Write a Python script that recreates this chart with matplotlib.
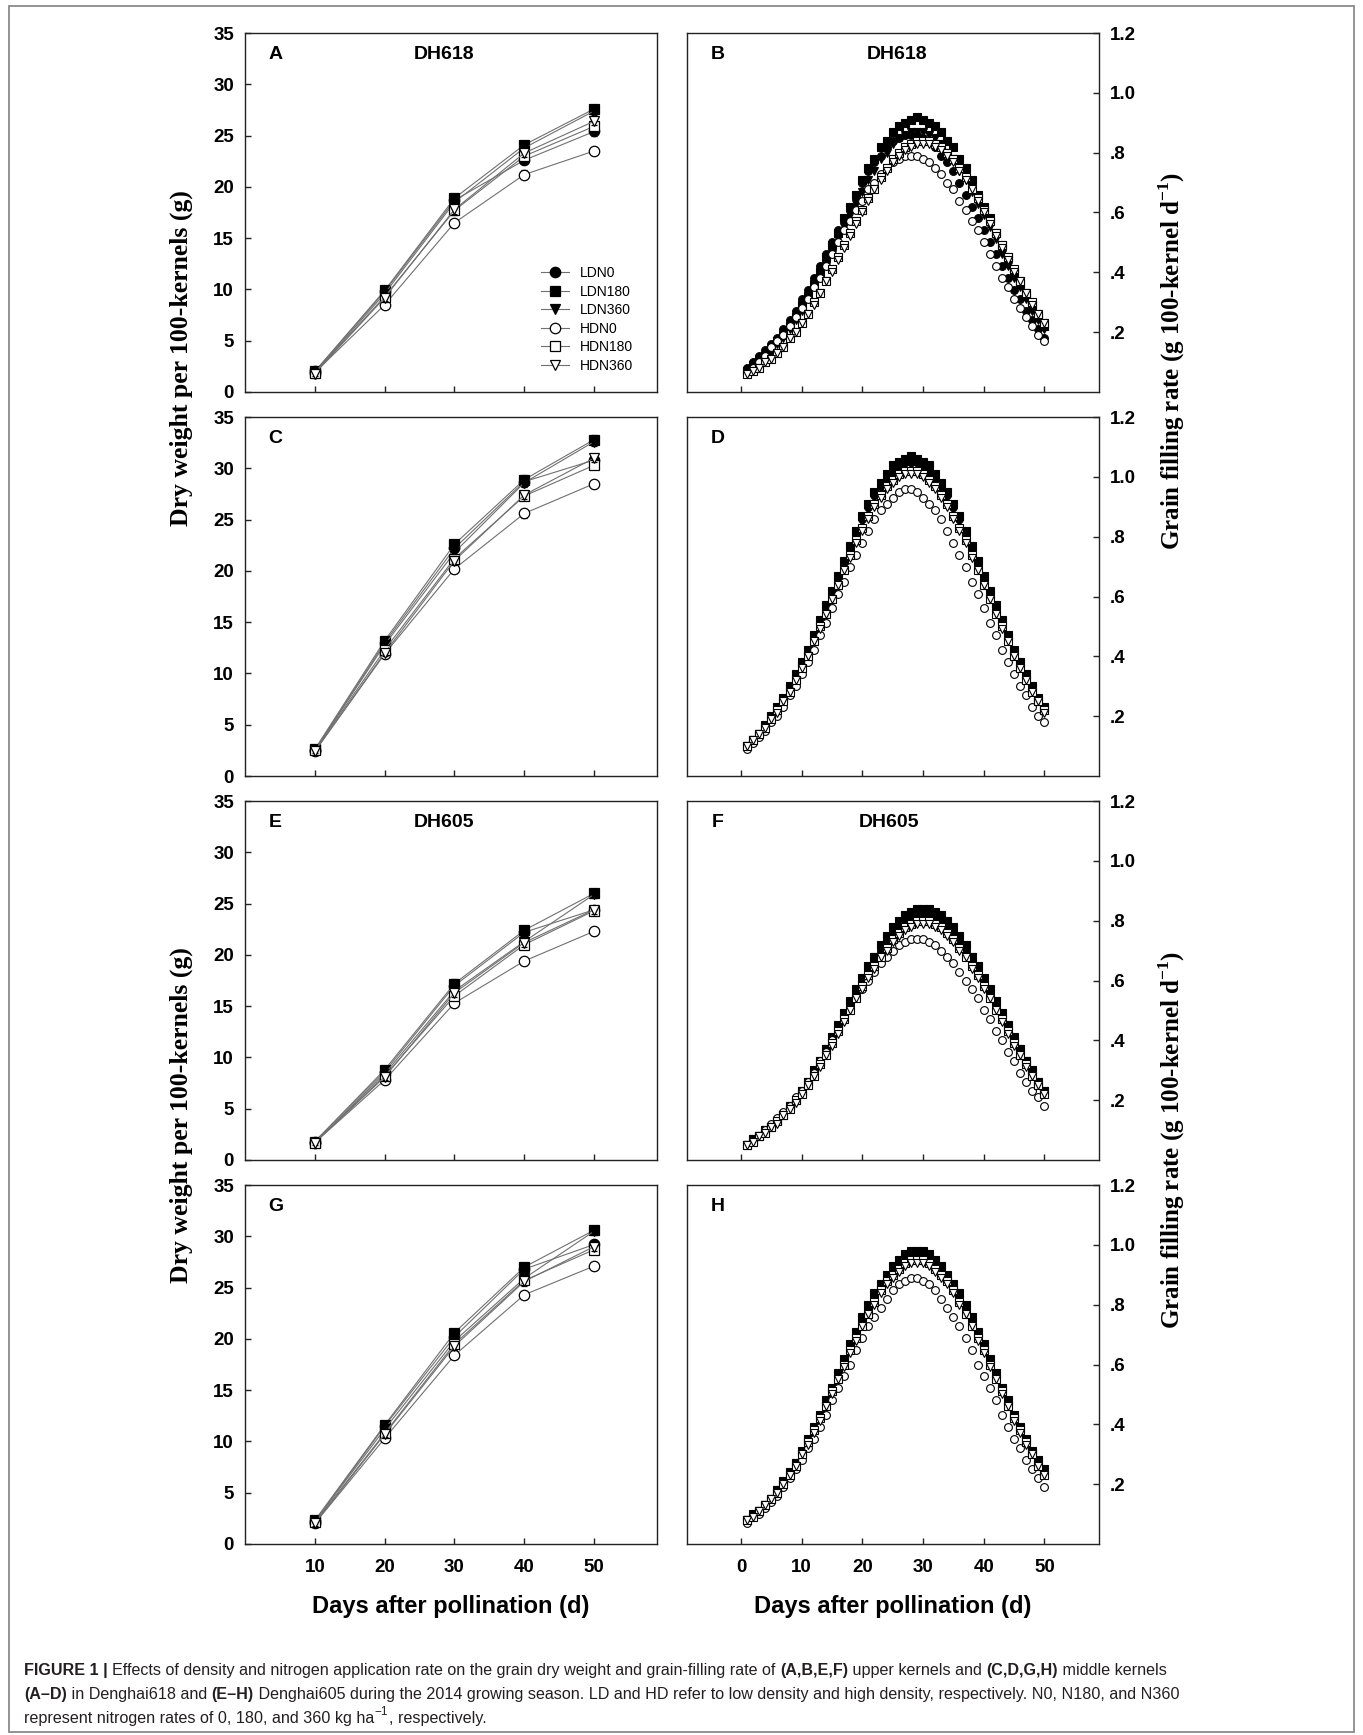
import numpy as np
import matplotlib
matplotlib.use('Agg')
import matplotlib.pyplot as plt
from matplotlib.lines import Line2D
from matplotlib.patches import Rectangle

plt.rcParams['font.family'] = ['Liberation Sans', 'DejaVu Sans']
plt.rcParams['font.weight'] = 'bold'
plt.rcParams['mathtext.fontset'] = 'custom'
plt.rcParams['mathtext.rm'] = 'Liberation Serif:bold'
plt.rcParams['mathtext.bf'] = 'Liberation Serif:bold'

treatments = ['LDN0', 'LDN180', 'LDN360', 'HDN0', 'HDN180', 'HDN360']
markers = ['o', 's', 'v', 'o', 's', 'v']
filled = [True, True, True, False, False, False]

# dry weight per 100 kernels (g), sampled every 10 days
sample_days = [10, 20, 30, 40, 50]
weight_err = [0.2, 0.3, 0.4, 0.4, 0.4]
weight_A = [[2.0, 9.8, 18.7, 22.6, 25.4],
            [2.0, 9.9, 18.9, 24.1, 27.6],
            [1.9, 9.6, 18.5, 23.8, 27.4],
            [1.9, 8.5, 16.5, 21.2, 23.5],
            [1.9, 9.3, 17.7, 23.0, 25.9],
            [1.8, 9.2, 17.8, 23.3, 26.4]]
weight_C = [[2.5, 13.0, 22.2, 28.7, 30.8],
            [2.6, 13.2, 22.6, 28.9, 32.8],
            [2.5, 12.8, 21.8, 28.6, 32.6],
            [2.4, 11.9, 20.2, 25.6, 28.5],
            [2.5, 12.3, 21.2, 27.3, 30.3],
            [2.4, 12.0, 21.0, 27.4, 31.0]]
weight_E = [[1.8, 8.6, 17.0, 22.2, 24.4],
            [1.8, 8.8, 17.2, 22.4, 26.0],
            [1.7, 8.4, 16.5, 21.3, 25.9],
            [1.7, 7.8, 15.3, 19.4, 22.3],
            [1.7, 8.2, 16.0, 21.0, 24.3],
            [1.7, 8.1, 16.3, 21.2, 24.4]]
weight_G = [[2.2, 11.5, 20.2, 26.8, 29.2],
            [2.3, 11.6, 20.6, 27.0, 30.6],
            [2.2, 11.2, 19.8, 25.9, 30.5],
            [2.0, 10.3, 18.4, 24.3, 27.1],
            [2.1, 10.8, 19.5, 25.7, 28.7],
            [2.0, 10.7, 19.3, 25.6, 29.0]]

# grain filling rate (g 100-kernel-1 d-1), days 1..50
rate_days = list(range(1, 51))
rate_B = [
    [.08, .10, .12, .14, .16, .18, .21, .24, .27, .31, .34, .38, .42, .46, .50, .54, .58, .62, .66, .70, .74, .77, .79, .82, .84,
     .85, .86, .86, .86, .85, .84, .82, .79, .77, .74, .70, .66, .62, .58, .54, .50, .46, .42, .38, .34, .31, .27, .24, .21, .18],
    [.07, .09, .11, .12, .14, .17, .19, .22, .25, .29, .32, .36, .40, .45, .49, .53, .58, .62, .66, .71, .75, .78, .82, .84, .87,
     .89, .90, .91, .92, .91, .90, .89, .87, .84, .82, .78, .75, .71, .66, .62, .58, .53, .49, .45, .40, .36, .32, .29, .25, .22],
    [.07, .08, .10, .12, .14, .16, .18, .21, .24, .27, .31, .35, .38, .42, .46, .51, .55, .59, .63, .67, .71, .74, .78, .80, .83,
     .85, .86, .87, .87, .87, .86, .85, .83, .80, .78, .74, .71, .67, .63, .59, .55, .51, .46, .42, .38, .35, .31, .27, .24, .21],
    [.06, .08, .10, .12, .15, .17, .19, .22, .25, .28, .31, .35, .38, .42, .46, .50, .54, .57, .61, .64, .68, .70, .73, .75, .77,
     .78, .79, .79, .79, .78, .77, .75, .73, .70, .68, .64, .61, .57, .54, .50, .46, .42, .38, .35, .31, .28, .25, .22, .19, .17],
    [.06, .07, .08, .10, .11, .13, .15, .18, .20, .23, .26, .30, .33, .37, .41, .45, .49, .53, .57, .61, .65, .68, .72, .75, .78,
     .80, .82, .83, .84, .84, .84, .83, .82, .80, .78, .75, .72, .68, .65, .61, .57, .53, .49, .45, .41, .37, .33, .30, .26, .23],
    [.06, .07, .08, .10, .11, .13, .15, .18, .20, .23, .26, .29, .33, .37, .40, .44, .48, .52, .56, .60, .64, .68, .71, .74, .77,
     .79, .81, .82, .83, .83, .83, .82, .81, .79, .77, .74, .71, .68, .64, .60, .56, .52, .48, .44, .40, .37, .33, .29, .26, .23]]
rate_D = [
    [.10, .12, .14, .17, .19, .22, .26, .29, .33, .37, .42, .46, .51, .56, .61, .66, .71, .76, .81, .86, .90, .94, .97, 1.00, 1.02,
     1.04, 1.05, 1.05, 1.05, 1.04, 1.02, 1.00, .97, .94, .90, .86, .81, .76, .71, .66, .61, .56, .51, .46, .42, .37, .33, .29, .26, .22],
    [.10, .12, .14, .17, .20, .23, .26, .30, .34, .38, .42, .47, .52, .57, .62, .67, .72, .77, .82, .87, .91, .95, .98, 1.01, 1.04,
     1.05, 1.06, 1.07, 1.06, 1.05, 1.04, 1.01, .98, .95, .91, .87, .82, .77, .72, .67, .62, .57, .52, .47, .42, .38, .34, .30, .26, .23],
    [.10, .12, .14, .16, .19, .22, .25, .29, .33, .37, .41, .46, .51, .56, .61, .66, .71, .76, .80, .85, .89, .93, .96, .99, 1.01,
     1.03, 1.04, 1.04, 1.04, 1.03, 1.01, .99, .96, .93, .89, .85, .80, .76, .71, .66, .61, .56, .51, .46, .41, .37, .33, .29, .25, .22],
    [.09, .11, .13, .15, .18, .20, .23, .27, .30, .34, .38, .42, .47, .51, .56, .61, .65, .70, .74, .78, .82, .86, .89, .91, .93,
     .95, .96, .96, .95, .93, .91, .89, .86, .82, .78, .74, .70, .65, .61, .56, .51, .47, .42, .38, .34, .30, .27, .23, .20, .18],
    [.10, .12, .14, .16, .19, .22, .25, .28, .32, .36, .40, .45, .50, .54, .59, .64, .69, .74, .79, .83, .87, .91, .94, .97, .99,
     1.01, 1.02, 1.02, 1.02, 1.01, .99, .97, .94, .91, .87, .83, .79, .74, .69, .64, .59, .54, .50, .45, .40, .36, .32, .28, .25, .22],
    [.10, .12, .14, .16, .19, .21, .25, .28, .32, .36, .40, .45, .49, .54, .59, .64, .69, .73, .78, .82, .86, .90, .93, .96, .98,
     1.00, 1.01, 1.01, 1.01, 1.00, .98, .96, .93, .90, .86, .82, .78, .73, .69, .64, .59, .54, .49, .45, .40, .36, .32, .28, .25, .21]]
rate_F = [
    [.05, .07, .08, .09, .11, .13, .15, .17, .20, .23, .26, .29, .33, .36, .40, .44, .48, .52, .56, .60, .63, .67, .70, .73, .76,
     .78, .80, .81, .82, .82, .82, .81, .80, .78, .76, .73, .70, .67, .63, .60, .56, .52, .48, .44, .40, .36, .33, .29, .26, .23],
    [.05, .07, .08, .10, .11, .13, .15, .18, .20, .23, .26, .30, .33, .37, .41, .45, .49, .53, .57, .61, .65, .68, .72, .75, .78,
     .80, .82, .83, .84, .84, .84, .83, .82, .80, .78, .75, .72, .68, .65, .61, .57, .53, .49, .45, .41, .37, .33, .30, .26, .23],
    [.05, .07, .08, .10, .11, .13, .15, .18, .20, .23, .26, .29, .33, .37, .40, .44, .48, .52, .56, .60, .64, .68, .71, .74, .77,
     .79, .81, .82, .83, .83, .83, .82, .81, .79, .77, .74, .71, .68, .64, .60, .56, .52, .48, .44, .40, .37, .33, .29, .26, .23],
    [.05, .06, .08, .10, .12, .14, .16, .18, .21, .23, .26, .29, .33, .36, .40, .43, .47, .50, .54, .57, .60, .63, .66, .68, .70,
     .72, .73, .74, .74, .74, .73, .72, .70, .68, .66, .63, .60, .57, .54, .50, .47, .43, .40, .36, .33, .29, .26, .23, .21, .18],
    [.05, .06, .08, .09, .11, .13, .15, .17, .20, .22, .25, .28, .32, .35, .39, .43, .47, .50, .54, .58, .62, .65, .68, .71, .74,
     .76, .78, .79, .80, .80, .80, .79, .78, .76, .74, .71, .68, .65, .62, .58, .54, .50, .47, .43, .39, .35, .32, .28, .25, .22],
    [.05, .06, .08, .09, .11, .12, .15, .17, .19, .22, .25, .28, .31, .35, .38, .42, .46, .50, .54, .57, .61, .64, .68, .70, .73,
     .75, .77, .78, .79, .79, .79, .78, .77, .75, .73, .70, .68, .64, .61, .57, .54, .50, .46, .42, .38, .35, .31, .28, .25, .22]]
rate_H = [
    [.08, .09, .11, .13, .15, .18, .21, .24, .27, .31, .34, .39, .43, .47, .52, .56, .61, .66, .70, .75, .79, .83, .86, .90, .92,
     .94, .96, .97, .97, .97, .96, .94, .92, .90, .86, .83, .79, .75, .70, .66, .61, .56, .52, .47, .43, .39, .34, .31, .27, .24],
    [.08, .10, .11, .13, .15, .18, .21, .24, .27, .31, .35, .39, .43, .48, .52, .57, .62, .67, .71, .76, .80, .84, .87, .90, .93,
     .95, .97, .98, .98, .98, .97, .95, .93, .90, .87, .84, .80, .76, .71, .67, .62, .57, .52, .48, .43, .39, .35, .31, .28, .25],
    [.08, .09, .11, .13, .15, .18, .20, .23, .27, .30, .34, .38, .42, .47, .51, .56, .61, .65, .70, .74, .78, .82, .86, .89, .91,
     .93, .95, .96, .96, .96, .95, .93, .91, .89, .86, .82, .78, .74, .70, .65, .61, .56, .51, .47, .42, .38, .34, .30, .27, .23],
    [.07, .09, .10, .12, .14, .16, .19, .22, .25, .28, .32, .35, .39, .43, .48, .52, .56, .60, .65, .69, .73, .76, .79, .82, .85,
     .87, .88, .89, .89, .88, .87, .85, .82, .79, .76, .73, .69, .65, .60, .56, .52, .48, .43, .39, .35, .32, .28, .25, .22, .19],
    [.08, .09, .11, .13, .15, .17, .20, .23, .26, .30, .34, .38, .42, .46, .51, .55, .60, .65, .69, .73, .77, .81, .85, .88, .90,
     .92, .94, .95, .95, .95, .94, .92, .90, .88, .85, .81, .77, .73, .69, .65, .60, .55, .51, .46, .42, .38, .34, .30, .26, .23],
    [.08, .09, .11, .13, .15, .17, .20, .23, .26, .30, .33, .37, .41, .46, .50, .55, .59, .64, .68, .73, .77, .80, .84, .87, .89,
     .91, .93, .94, .94, .94, .93, .91, .89, .87, .84, .80, .77, .73, .68, .64, .59, .55, .50, .46, .41, .37, .33, .30, .26, .23]]

left_letters = ['A', 'C', 'E', 'G']
right_letters = ['B', 'D', 'F', 'H']
left_titles = ['DH618', '', 'DH605', '']
right_titles = ['DH618', '', 'DH605', '']
weights = [weight_A, weight_C, weight_E, weight_G]
rates = [rate_B, rate_D, rate_F, rate_H]

W, H = 1363, 1735
fig = plt.figure(figsize=(W / 100, H / 100), dpi=100)

def style_axes(ax):
    for sp in ax.spines.values():
        sp.set_linewidth(1.0)
        sp.set_color('#222222')
    ax.tick_params(direction='in', length=4, width=1, labelsize=13.5, pad=8, color='#222222')
    ax.tick_params(axis='x', pad=11)

row_tops = [33, 417, 801, 1185]
ax_h = 359
for r in range(4):
    bottom = 1 - (row_tops[r] + ax_h) / H
    # dry weight panel
    ax = fig.add_axes([245 / W, bottom, 412 / W, ax_h / H])
    for i in range(6):
        ax.errorbar(sample_days, weights[r][i], yerr=weight_err, color='#707070', lw=0.8,
                    marker=markers[i], ms=7.5, mfc='black' if filled[i] else 'white',
                    mec='black', mew=0.9, ecolor='black', elinewidth=0.8, capsize=2.5,
                    capthick=0.8, zorder=3 + i)
    ax.set_xlim(0, 59)
    ax.set_ylim(0, 35)
    ax.set_xticks(sample_days)
    ax.set_yticks(range(0, 36, 5))
    style_axes(ax)
    if r < 3:
        ax.tick_params(labelbottom=False)
    ax.text(0.074, 0.939, left_letters[r], transform=ax.transAxes, fontsize=14,
            fontweight='bold', ha='center', va='center')
    if left_titles[r]:
        ax.text(0.483, 0.939, left_titles[r], transform=ax.transAxes, fontsize=14,
                fontweight='bold', ha='center', va='center')
    if r == 0:
        handles = [Line2D([], [], color='#707070', lw=0.8, marker=markers[i], ms=7.5,
                          mfc='black' if filled[i] else 'white', mec='black', mew=0.9)
                   for i in range(6)]
        ax.legend(handles, treatments, loc='upper left', bbox_to_anchor=(0.718, 0.35),
                  frameon=False, prop={'size': 10, 'weight': 'normal'}, handlelength=2.0,
                  handletextpad=0.8, labelspacing=0.32, borderaxespad=0, borderpad=0)

    # grain filling rate panel
    ax2 = fig.add_axes([687 / W, bottom, 412 / W, ax_h / H])
    for i in range(6):
        ax2.plot(rate_days, rates[r][i], ls='none', marker=markers[i], ms=5.6,
                 mfc='black' if filled[i] else 'white', mec='black', mew=0.8, zorder=3 + i)
    ax2.set_xlim(-8.9, 59)
    ax2.set_ylim(0, 1.2)
    ax2.set_xticks([0, 10, 20, 30, 40, 50])
    ax2.set_yticks([0.2, 0.4, 0.6, 0.8, 1.0, 1.2])
    ax2.set_yticklabels(['.2', '.4', '.6', '.8', '1.0', '1.2'])
    ax2.yaxis.tick_right()
    style_axes(ax2)
    if r < 3:
        ax2.tick_params(labelbottom=False)
    ax2.text(0.074, 0.939, right_letters[r], transform=ax2.transAxes, fontsize=14,
             fontweight='bold', ha='center', va='center')
    if right_titles[r]:
        ax2.text(0.51 if r == 0 else 0.49, 0.939, right_titles[r], transform=ax2.transAxes,
                 fontsize=14, fontweight='bold', ha='center', va='center')

# axis titles
for yc in [358, 1115]:
    fig.text(181 / W, 1 - yc / H, 'Dry weight per 100-kernels (g)', rotation=90,
             ha='center', va='center', family='Liberation Serif', weight='bold', fontsize=18.5)
for yc in [361, 1140]:
    fig.text(1172 / W, 1 - yc / H, r'Grain filling rate (g 100-kernel d$^{\mathbf{-1}}$)',
             rotation=90, ha='center', va='center', family='Liberation Serif',
             weight='bold', fontsize=18)
for xc in [451, 893]:
    fig.text(xc / W, 1 - 1606 / H, 'Days after pollination (d)', ha='center', va='center',
             fontsize=17, weight='bold')

# outer frame
fig.patches.append(Rectangle((9 / W, 3 / H), 1345 / W, 1726 / H, transform=fig.transFigure,
                             fill=False, ec='#8a8a8a', lw=1.3))

# caption: (text, weight, size, raise in px)
caption = [
    [('FIGURE 1 | ', 'bold', 11.6, 0),
     ('Effects of density and nitrogen application rate on the grain dry weight and grain-filling rate of ', 'normal', 11.6, 0),
     ('(A,B,E,F)', 'bold', 11.6, 0), (' upper kernels and ', 'normal', 11.6, 0), ('(C,D,G,H)', 'bold', 11.6, 0),
     (' middle kernels', 'normal', 11.6, 0)],
    [('(A\u2013D)', 'bold', 11.6, 0), (' in Denghai618 and ', 'normal', 11.6, 0), ('(E\u2013H)', 'bold', 11.6, 0),
     (' Denghai605 during the 2014 growing season. LD and HD refer to low density and high density, '
      'respectively. N0, N180, and N360', 'normal', 11.6, 0)],
    [('represent nitrogen rates of 0, 180, and 360 kg ha', 'normal', 11.6, 0),
     ('\u22121', 'normal', 8.5, 6), (', respectively.', 'normal', 11.6, 0)],
]
renderer = fig.canvas.get_renderer()
for k, line in enumerate(caption):
    x = 24
    yc = [1670, 1694, 1718][k]
    for txt, wt, sz, dy in line:
        t = fig.text(x / W, 1 - (yc - dy) / H, txt, ha='left', va='center', fontsize=sz,
                     weight=wt, color='#231f20', family=['Liberation Sans', 'DejaVu Sans'])
        x = t.get_window_extent(renderer).x1 + (1 if dy else 0)

fig.savefig('out.png', dpi=100)
